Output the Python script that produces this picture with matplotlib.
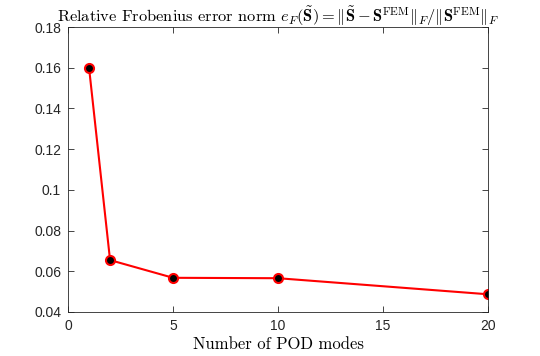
import matplotlib
matplotlib.use("Agg")
import matplotlib.pyplot as plt

modes = [1, 2, 5, 10, 20]
err = [0.160, 0.0655, 0.0568, 0.0566, 0.0487]
xticks = [0, 5, 10, 15, 20]
yticks = [0.04, 0.06, 0.08, 0.1, 0.12, 0.14, 0.16, 0.18]
ytick_labels = ["0.04", "0.06", "0.08", "0.1", "0.12", "0.14", "0.16", "0.18"]

plt.rcParams['mathtext.fontset'] = 'cm'
plt.rcParams['font.family'] = ['Liberation Sans', 'DejaVu Sans']

fig = plt.figure(figsize=(5.4, 3.56), dpi=100)
ax = fig.add_axes([0.126, 0.1236, 0.778, 0.8004])
ax.plot(modes, err, color='red', lw=1.5, marker='o', ms=6.5,
        markerfacecolor='black', markeredgecolor='red', markeredgewidth=1.5)
ax.set_xlim(0, 20)
ax.set_ylim(0.04, 0.18)
ax.set_xticks(xticks)
ax.set_yticks(yticks)
ax.set_yticklabels(ytick_labels)
ax.tick_params(direction='in', top=True, right=True, length=4, width=0.6,
               colors='#262626', labelsize=10, labelcolor='#262626', pad=5)
for s in ax.spines.values():
    s.set_color('#262626')
    s.set_linewidth(0.6)
ax.set_title(r"Relative Frobenius error norm $e_F(\tilde{\mathbf{S}}) = \|\tilde{\mathbf{S}} - \mathbf{S}^{\mathrm{FEM}}\|_F / \|\mathbf{S}^{\mathrm{FEM}}\|_F$",
             fontfamily='cmr10', fontsize=11.8, pad=4)
ax.set_xlabel("Number of POD modes", fontfamily='cmr10', fontsize=12, labelpad=3)
fig.savefig("out.png", dpi=100)
